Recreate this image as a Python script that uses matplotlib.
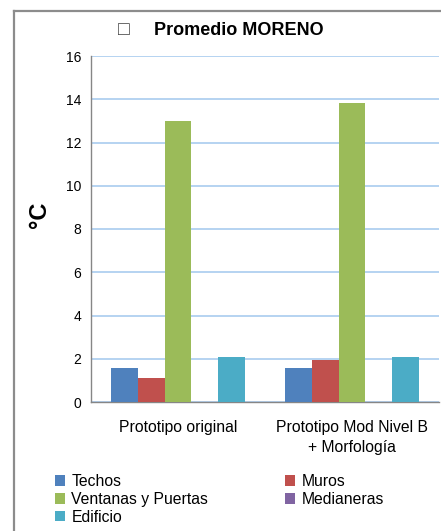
import matplotlib
matplotlib.use("Agg")
import matplotlib.pyplot as plt
from matplotlib.lines import Line2D
from matplotlib.patches import Patch
import numpy as np

plt.rcParams['font.family'] = ['Liberation Sans', 'DejaVu Sans']

categories = ["Prototipo original", "Prototipo Mod Nivel B\n+ Morfología"]
series = ["Techos", "Muros", "Ventanas y Puertas", "Medianeras", "Edificio"]
values = {
    "Techos": [1.57, 1.57],
    "Muros": [1.11, 1.94],
    "Ventanas y Puertas": [13.0, 13.83],
    "Medianeras": [0.0, 0.0],
    "Edificio": [2.08, 2.08],
}
colors = {
    "Techos": "#4F81BD",
    "Muros": "#C0504D",
    "Ventanas y Puertas": "#9BBB59",
    "Medianeras": "#8064A2",
    "Edificio": "#4BACC6",
}
yticks = [0, 2, 4, 6, 8, 10, 12, 14, 16]

fig = plt.figure(figsize=(4.41, 5.31), dpi=100)
ax = fig.add_axes([91 / 441, 1 - 402 / 531, 348 / 441, 346 / 531])

x = np.arange(len(categories))
w = 0.155
for i, s in enumerate(series):
    ax.bar(x + (i - 2) * w, values[s], width=w, color=colors[s], zorder=3)

ax.set_xlim(-0.5, 1.5)
ax.set_ylim(0, 16)
ax.set_yticks(yticks)
ax.set_yticklabels([str(t) for t in yticks], fontsize=10)
ax.set_xticks(x)
ax.set_xticklabels(categories, fontsize=11.3, linespacing=1.4)
ax.tick_params(axis='y', length=0, pad=7)
ax.tick_params(axis='x', length=0, pad=13)
ax.yaxis.grid(True, color="#A9CCEF", linewidth=1.2, zorder=0)
ax.set_axisbelow(True)
for side in ("top", "right"):
    ax.spines[side].set_visible(False)
for side in ("left", "bottom"):
    ax.spines[side].set_color("#868686")
    ax.spines[side].set_linewidth(1.0)

ax.set_ylabel("°C", fontsize=17, fontweight="bold")
ax.yaxis.set_label_coords(-0.115, 0.54)

fig.text(124 / 441, 1 - 31 / 531, "\u25a1", fontsize=14, color="#444444",
         ha="center", va="center")
fig.text(239 / 441, 1 - 31 / 531, "Promedio MORENO", fontsize=13,
         fontweight="bold", ha="center", va="center")

# chart area frame
fig.add_artist(Line2D([14.5 / 441, 14.5 / 441], [0, 1 - 10.5 / 531],
                      color="#8C8C8C", linewidth=1.6, transform=fig.transFigure))
fig.add_artist(Line2D([14.5 / 441, 1], [1 - 10.5 / 531, 1 - 10.5 / 531],
                      color="#8C8C8C", linewidth=1.6, transform=fig.transFigure))

def make_legend(names, x0):
    handles = [Patch(facecolor=colors[n], edgecolor="none") for n in names]
    leg = fig.legend(handles, names, loc="upper left",
                     bbox_to_anchor=(x0, 1 - 474 / 531), frameon=False,
                     fontsize=11.3, handlelength=0.65, handleheight=0.65,
                     handletextpad=0.4, labelspacing=0.18,
                     borderpad=0, borderaxespad=0)
    return leg

make_legend(["Techos", "Ventanas y Puertas", "Edificio"], 55 / 441)
make_legend(["Muros", "Medianeras"], 285 / 441)

fig.savefig("out.png", dpi=100)
